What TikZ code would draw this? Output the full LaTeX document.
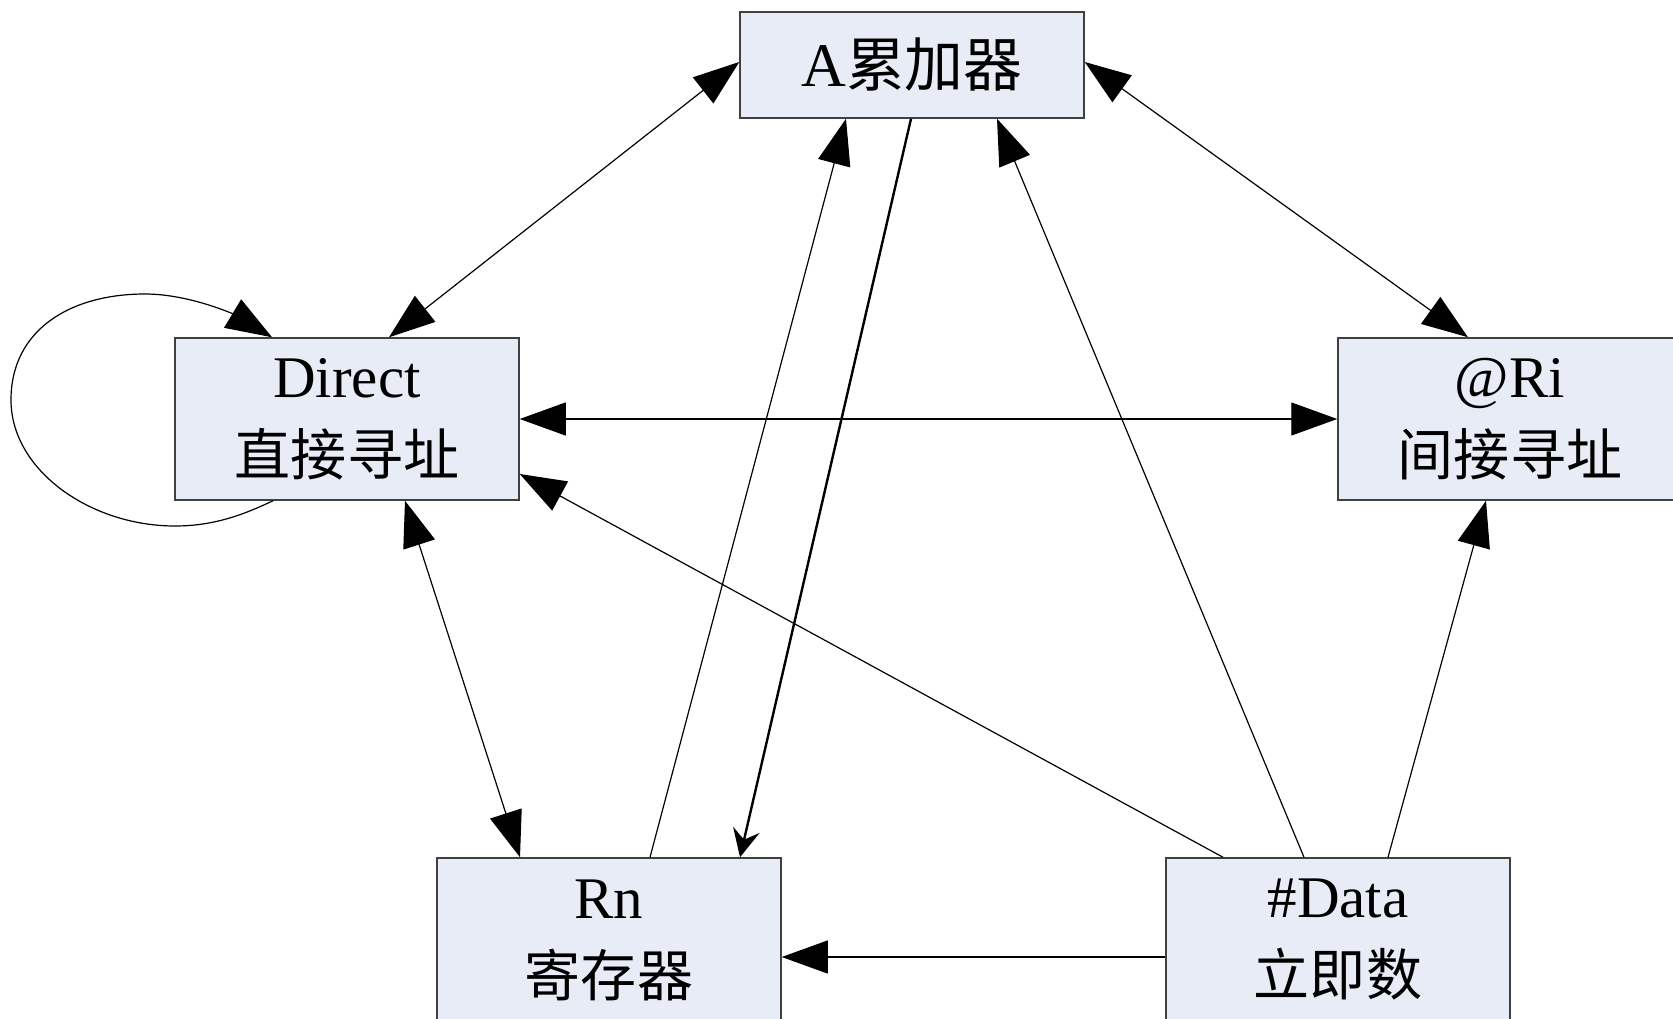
\documentclass[tikz,border=0pt]{standalone}
\usepackage{fontspec}
\setmainfont{Liberation Serif}
\newfontfamily\cjk{Noto Sans CJK SC}[Scale=0.95]
\usetikzlibrary{arrows.meta,calc}
\definecolor{boxfill}{RGB}{231,236,247}
\definecolor{boxline}{RGB}{64,64,64}
\tikzset{
  modebox/.style={draw=boxline, fill=boxfill, line width=1.5pt, rectangle,
    minimum width=344pt, minimum height=162pt, inner sep=0pt, align=center,
    font=\fontsize{59}{78}\selectfont},
  conn/.style={line width=1.2pt, draw=black},
  tri/.style={conn, -{Triangle[length=46pt,width=33pt]}},
  bitri/.style={conn, {Triangle[length=46pt,width=33pt]}-{Triangle[length=46pt,width=33pt]}},
  heavy/.style={line width=2.4pt, draw=black, -{Stealth[length=28pt,width=27pt,inset=10pt]}}
}
\begin{document}
\begin{tikzpicture}[x=1pt,y=-1pt]
\useasboundingbox (0,0) rectangle (1673,1019);
\clip (0,0) rectangle (1673,1019);
\fill[white] (0,0) rectangle (1673,1019);

\node[modebox, minimum height=106pt, font=\fontsize{62}{78}\selectfont] (A) at (912,65) {A{\cjk 累加器}};
\node[modebox] (Direct) at (347,419) {Direct\\{\cjk 直接寻址}};
\node[modebox] (Ri) at (1510,419) {@Ri\\{\cjk 间接寻址}};
\node[modebox, minimum height=164pt] (Rn) at (609,940) {Rn\\{\cjk 寄存器}};
\node[modebox, minimum height=164pt] (Data) at (1338,940) {\#Data\\{\cjk 立即数}};

% A <-> Direct
\draw[bitri] ([yshift=3pt]A.west) -- ([xshift=42pt]Direct.north);
% loop on Direct
\draw[conn, -{Triangle[length=46pt,width=33pt]}] ([xshift=-74pt]Direct.south)
  .. controls (245,514) and (215,526) .. (175,526)
  .. controls (90,526) and (11,470) .. (11,400)
  .. controls (11,330) and (70,294) .. (145,294)
  .. controls (190,294) and (235,315) .. ([xshift=-75pt]Direct.north);
% Direct <-> Ri
\draw[bitri] (Direct.east) -- (Ri.west);
% A <-> Ri
\draw[bitri] ([yshift=3pt]A.east) -- ([xshift=-42pt]Ri.north);
% Direct <-> Rn
\draw[bitri] ([xshift=58pt]Direct.south) -- ([xshift=-89pt]Rn.north);
% Rn -> A
\draw[tri] ([xshift=41pt]Rn.north) -- ([xshift=-66pt]A.south);
% A -> Rn (heavy)
\draw[heavy] ([xshift=-1pt]A.south) -- ([xshift=131pt]Rn.north);
% Data -> Direct
\draw[tri] ([xshift=-115pt]Data.north) -- ([yshift=-55pt]Direct.east);
% Data -> A
\draw[tri] ([xshift=-34pt]Data.north) -- ([xshift=85pt]A.south);
% Data -> Ri
\draw[tri] ([xshift=50pt]Data.north) -- ([xshift=-24pt]Ri.south);
% Data -> Rn
\draw[tri] ([yshift=-17pt]Data.west) -- ([yshift=-17pt]Rn.east);
\end{tikzpicture}
\end{document}
